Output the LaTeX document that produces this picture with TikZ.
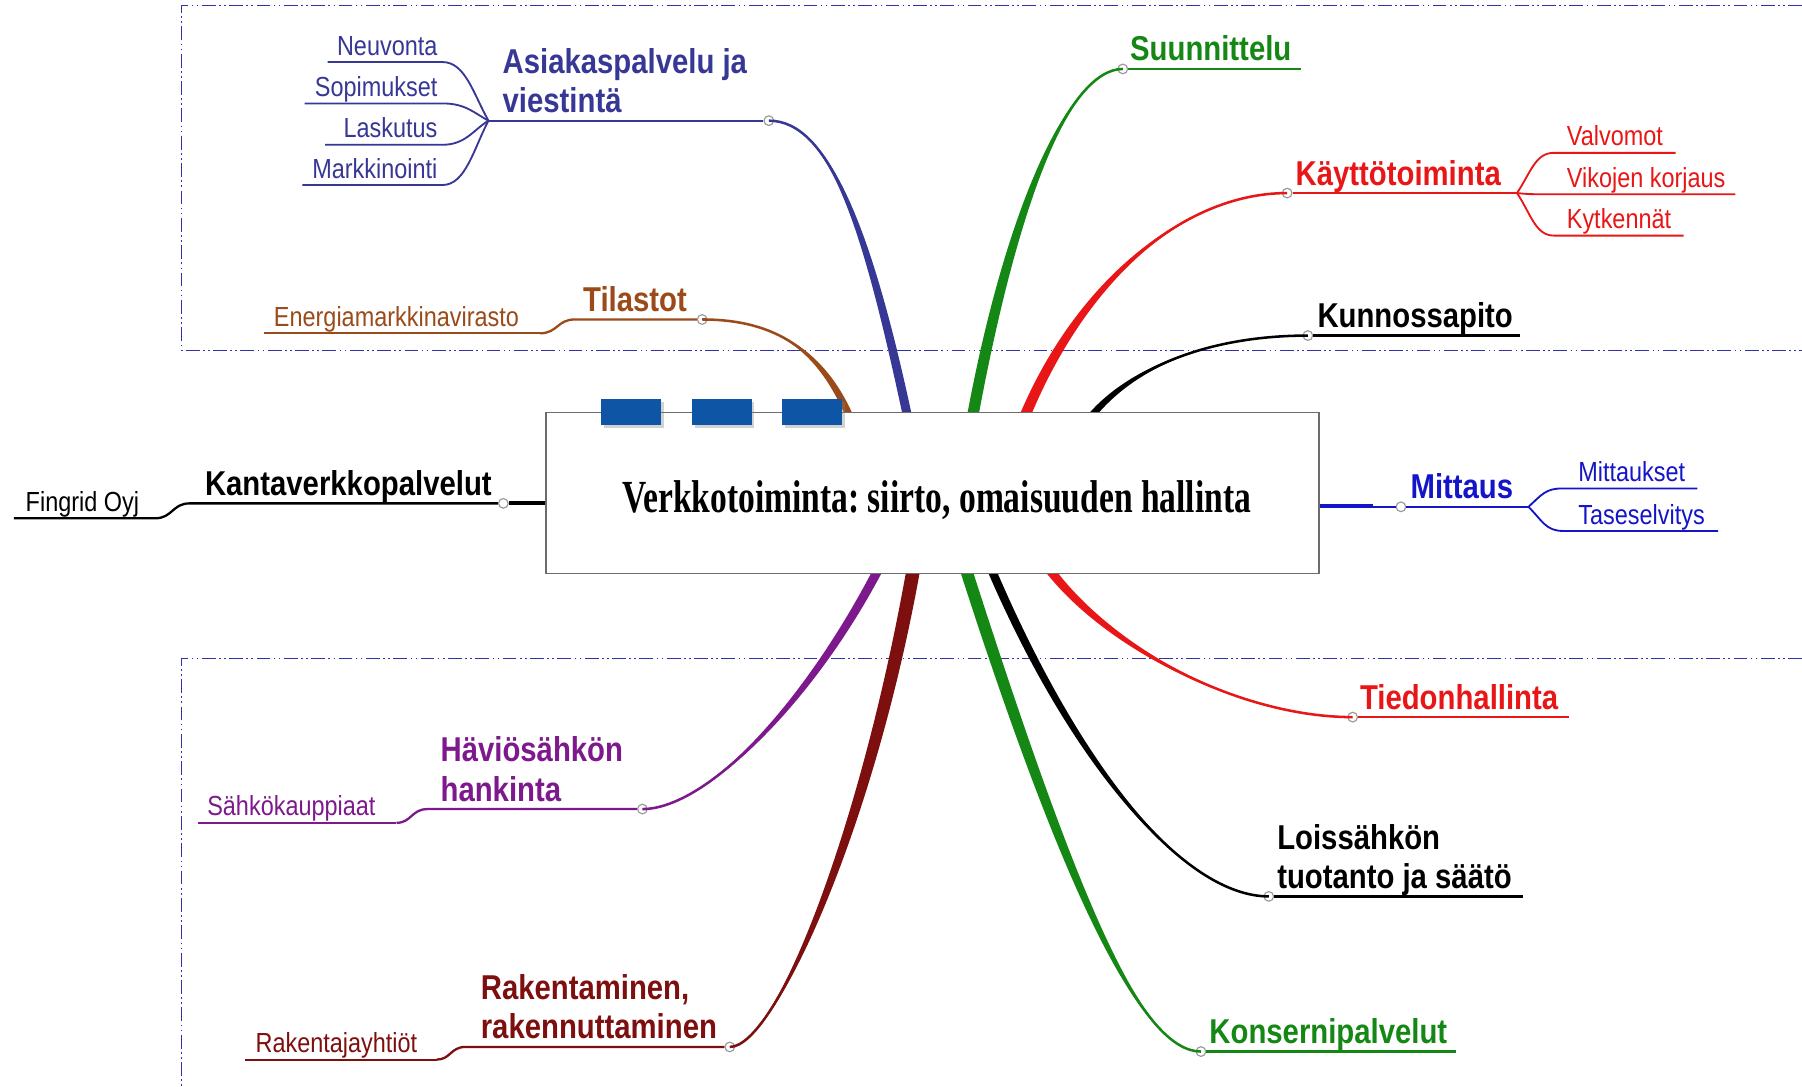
\documentclass[tikz,border=0pt]{standalone}
\usepackage{fontspec}
\setmainfont{Liberation Serif}
\newfontfamily\labfont[FakeStretch=0.85]{Liberation Sans}
\newfontfamily\ctrfont[FakeStretch=0.73]{Liberation Serif}
\usetikzlibrary{calc,shadows}
\frenchspacing
\definecolor{cnavy}{RGB}{55,55,150}
\definecolor{cbrown}{RGB}{155,75,25}
\definecolor{cgreen}{RGB}{20,135,20}
\definecolor{cred}{RGB}{232,22,22}
\definecolor{cblue}{RGB}{20,20,200}
\definecolor{cpurple}{RGB}{125,25,140}
\definecolor{cdred}{RGB}{125,15,15}
\definecolor{crect}{RGB}{15,85,165}
\definecolor{cframe}{RGB}{50,50,170}
% branch: colour, start on box, control near start, control near end, end node, half width at start
\newcommand\mmbranch[6]{%
  \fill[#1] ($(#2)+(-#6,0)$) .. controls ($(#3)+(-#6,0)$) and (#4) .. (#5.center)
     .. controls (#4) and ($(#3)+(#6,0)$) .. ($(#2)+(#6,0)$) -- cycle;
  \draw[#1, line width=1.1pt] (#2) .. controls (#3) and (#4) .. (#5.center);}
\begin{document}
\begin{tikzpicture}[x=0.5pt,y=-0.5pt,
  mainlab/.style={font=\labfont\bfseries\fontsize{15}{17}\selectfont, inner sep=0pt, anchor=base west, align=left},
  sublab/.style={font=\labfont\fontsize{12}{14}\selectfont, inner sep=0pt, anchor=base west},
  dot/.style={circle, draw=gray!80, fill=white, inner sep=0pt, minimum size=4.2pt, line width=0.5pt},
  uline/.style={line width=1pt},
  subline/.style={line width=0.8pt},
  frame/.style={draw=cframe, line width=0.6pt, dash pattern=on 6pt off 1.5pt on 0.7pt off 1.5pt on 0.7pt off 1.5pt},
  brect/.style={fill=crect, minimum width=26pt, minimum height=11.5pt, inner sep=0pt,
     drop shadow={shadow xshift=1.2pt, shadow yshift=-1.2pt, opacity=0.35}}]
\useasboundingbox (0,0) rectangle (1568,945);
\fill[white] (0,0) rectangle (1568,945);

% frames
\draw[frame] (1568,5) -- (158,5) -- (158,305) -- (1568,305);
\draw[frame] (1568,573) -- (158,573) -- (158,945);

% circles (end points of branches)
\node[dot] (cA) at (669,105) {};
\node[dot] (cT) at (611,278) {};
\node[dot] (cK) at (438,438) {};
\node[dot] (cS) at (977,60) {};
\node[dot] (cKt) at (1120,168) {};
\node[dot] (cKu) at (1138,292) {};
\node[dot] (cM) at (1219,441) {};
\node[dot] (cTi) at (1177,624) {};
\node[dot] (cL) at (1104,780) {};
\node[dot] (cKo) at (1045,915) {};
\node[dot] (cH) at (559,704) {};
\node[dot] (cR) at (635,911) {};

% start points on the central box
\coordinate (sA) at (790,364);
\coordinate (sT) at (740,364);
\coordinate (sS) at (846,364);
\coordinate (sKt) at (891,364);
\coordinate (sKu) at (948,364);
\coordinate (sTi) at (912,494);
\coordinate (sL) at (862,494);
\coordinate (sKo) at (840,494);
\coordinate (sH) at (765,494);
\coordinate (sR) at (795,494);

% main branches
\mmbranch{cnavy}{sA}{755,200}{722,105}{cA}{4}
\mmbranch{cbrown}{sT}{715,305}{675,278}{cT}{3.5}
\mmbranch{cgreen}{sS}{880,180}{930,60}{cS}{5}
\mmbranch{cred}{sKt}{940,245}{1030,168}{cKt}{5}
\mmbranch{black}{sKu}{985,318}{1055,292}{cKu}{4}
\mmbranch{cred}{sTi}{965,565}{1080,624}{cTi}{5}
\mmbranch{black}{sL}{935,665}{1030,780}{cL}{4}
\mmbranch{cgreen}{sKo}{935,790}{995,915}{cKo}{5.5}
\mmbranch{cpurple}{sH}{705,610}{615,704}{cH}{4.5}
\mmbranch{cdred}{sR}{755,720}{675,911}{cR}{6}

% Asiakaspalvelu ja viestinta
\coordinate (fA) at (425,105);
\draw[cnavy, uline] (cA) -- (fA);
\node[mainlab, text=cnavy] (tA) at (437,98) {Asiakaspalvelu ja\\viestintä};
\node[sublab, anchor=base east, text=cnavy] (nNe) at (381,48) {Neuvonta};
\node[sublab, anchor=base east, text=cnavy] (nSo) at (381,84) {Sopimukset};
\node[sublab, anchor=base east, text=cnavy] (nLa) at (381,120) {Laskutus};
\node[sublab, anchor=base east, text=cnavy] (nMa) at (381,155) {Markkinointi};
\draw[cnavy, subline] (fA) .. controls (412,82) and (405,54) .. (385,54) -- (285,54);
\draw[cnavy, subline] (fA) .. controls (412,98) and (405,90) .. (385,90) -- (265,90);
\draw[cnavy, subline] (fA) .. controls (412,113) and (405,126) .. (385,126) -- (283,126);
\draw[cnavy, subline] (fA) .. controls (412,130) and (405,161) .. (385,161) -- (263,161);

% Tilastot
\draw[cbrown, uline] (cT) -- (500,278) .. controls (485,278) and (485,290) .. (470,290);
\draw[cbrown, subline] (470,290) -- (230,290);
\node[mainlab, text=cbrown] (tT) at (507,271) {Tilastot};
\node[sublab, text=cbrown] (nEn) at (238,284) {Energiamarkkinavirasto};

% Kantaverkkopalvelut
\draw[black, line width=1.8pt] (cK) -- (478,438);
\draw[black, uline] (cK) -- (165,438) .. controls (150,438) and (150,451) .. (135,451) -- (12,451);
\node[mainlab] (tK) at (178,431) {Kantaverkkopalvelut};
\node[sublab] (nFi) at (22,445) {Fingrid Oyj};

% Suunnittelu
\draw[cgreen, uline] (cS) -- (1132,60);
\node[mainlab, text=cgreen] (tS) at (983,53) {Suunnittelu};

% Kayttotoiminta
\coordinate (fK) at (1320,168);
\draw[cred, uline] (cKt) -- (fK);
\node[mainlab, text=cred] (tKt) at (1127,161) {Käyttötoiminta};
\draw[cred, subline] (fK) .. controls (1332,150) and (1336,133) .. (1352,133) -- (1458,133);
\draw[cred, subline] (fK) .. controls (1330,169) .. (1345,169) -- (1510,169);
\draw[cred, subline] (fK) .. controls (1332,186) and (1336,205) .. (1352,205) -- (1465,205);
\node[sublab, text=cred] (nVa) at (1363,127) {Valvomot};
\node[sublab, text=cred] (nVi) at (1363,163) {Vikojen korjaus};
\node[sublab, text=cred] (nKy) at (1363,199) {Kytkennät};

% Kunnossapito
\draw[black, uline] (cKu) -- (1323,292);
\node[mainlab] (tKu) at (1146,285) {Kunnossapito};

% Mittaus
\coordinate (fM) at (1330,441);
\draw[cblue, line width=1.8pt] (1145,440) -- (1195,440);
\draw[cblue, uline] (1145,441) -- (cM) -- (fM);
\node[mainlab, text=cblue] (tM) at (1227,434) {Mittaus};
\draw[cblue, subline] (fM) .. controls (1342,430) and (1345,425) .. (1360,425) -- (1477,425);
\draw[cblue, subline] (fM) .. controls (1342,453) and (1345,462) .. (1360,462) -- (1495,462);
\node[sublab, text=cblue] (nMi) at (1373,419) {Mittaukset};
\node[sublab, text=cblue] (nTa) at (1373,456) {Taseselvitys};

% Tiedonhallinta
\draw[cred, uline] (cTi) -- (1365,624);
\node[mainlab, text=cred] (tTi) at (1183,617) {Tiedonhallinta};

% Loissahkon tuotanto ja saato
\draw[black, uline] (cL) -- (1325,780);
\node[mainlab] (tL) at (1111,773) {Loissähkön\\tuotanto ja säätö};

% Konsernipalvelut
\draw[cgreen, uline] (cKo) -- (1267,915);
\node[mainlab, text=cgreen] (tKo) at (1052,908) {Konsernipalvelut};

% Haviosahkon hankinta
\draw[cpurple, uline] (cH) -- (372,704) .. controls (358,704) and (358,716) .. (345,716);
\draw[cpurple, subline] (345,716) -- (172,716);
\node[mainlab, text=cpurple] (tH) at (383,697) {Häviösähkön\\hankinta};
\node[sublab, text=cpurple] (nSa) at (180,710) {Sähkökauppiaat};

% Rakentaminen
\draw[cdred, uline] (cR) -- (405,911) .. controls (392,911) and (392,922) .. (380,922);
\draw[cdred, subline] (380,922) -- (213,922);
\node[mainlab, text=cdred] (tR) at (418,904) {Rakentaminen,\\rakennuttaminen};
\node[sublab, text=cdred] (nRa) at (222,916) {Rakentajayhtiöt};

% central box
\node[draw=gray!85!black, line width=0.8pt, fill=white, minimum width=336.5pt, minimum height=70pt, inner sep=0pt] (box) at (811.5,429) {};
\node[font=\ctrfont\bfseries\fontsize{20}{22}\selectfont, inner sep=0pt, anchor=base] (boxtxt) at (815,446) {Verkkotoiminta: siirto, omaisuuden hallinta};

% blue blocks on the box top
\node[brect] (r1) at (549,358.5) {};
\node[brect] (r2) at (628,358.5) {};
\node[brect] (r3) at (706.5,358.5) {};
\end{tikzpicture}
\end{document}
